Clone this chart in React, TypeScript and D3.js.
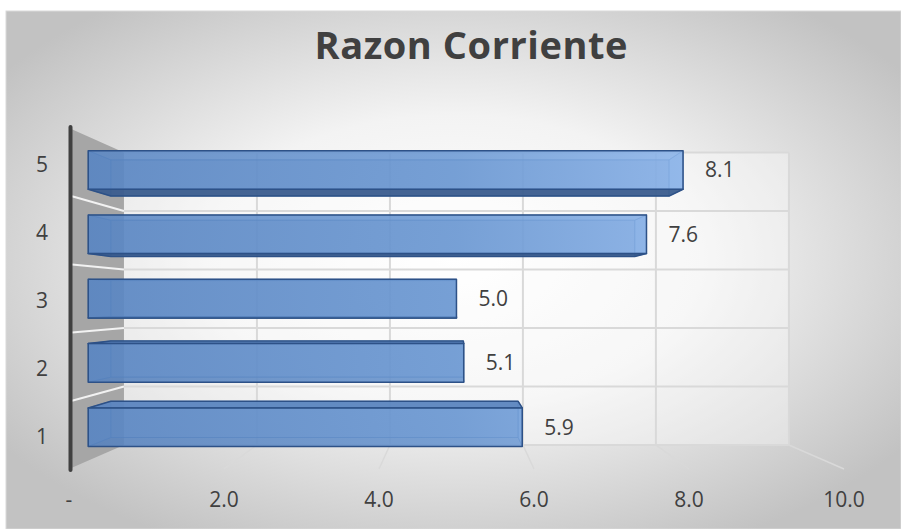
import * as d3 from "d3";

const title = "Razon Corriente";
const categories = ["1", "2", "3", "4", "5"];
const values = [5.9, 5.1, 5.0, 7.6, 8.1];
const xTicks = [0, 2, 4, 6, 8, 10];
const xTickLabels = ["-", "2.0", "4.0", "6.0", "8.0", "10.0"];

const W = 901;
const H = 529;
const FONT = "'Open Sans', 'Noto Sans', sans-serif";

// perspective: front plane (z=0) in screen space, shrinking toward a vanishing point
const vp = [456, 300];
const k = 0.1655;
const sz = (z: number) => 1 / (1 + k * z);
const P = (x: number, y: number, z: number) => {
  const s = sz(z);
  return [vp[0] + s * (x - vp[0]), vp[1] + s * (y - vp[1])] as [number, number];
};
const poly = (pts: [number, number][]) =>
  "M" + pts.map((p) => `${p[0].toFixed(2)},${p[1].toFixed(2)}`).join("L") + "Z";

const x = d3.scaleLinear().domain([0, 10]).range([69, 844]);
const y = d3.scaleBand<string>().domain([...categories].reverse()).range([128, 469]).padding(0);

const zFront = 0.365;
const zBack = 0.785;

export default function App() {
  const yTop = y.range()[0];
  const yBot = y.range()[1];
  const x0 = x(0);
  const xMax = x(10);
  const bounds = [...categories].reverse().map((c) => y(c)!).concat([yBot]);

  const bars = categories.map((c, i) => {
    const v = values[i];
    const bw = y.bandwidth();
    const y0 = y(c)! + bw * 0.2;
    const y1 = y(c)! + bw * 0.8;
    const xs = x0 - 3;
    const x1 = x(v);
    const f = (xx: number, yy: number) => P(xx, yy, zFront);
    const b = (xx: number, yy: number) => P(xx, yy, zBack);
    const above = (y0 + y1) / 2 < vp[1];
    const mid = f(x1, (y0 + y1) / 2);
    return {
      c,
      v,
      above,
      back: poly([b(xs, y0), b(x1, y0), b(x1, y1), b(xs, y1)]),
      top: poly([f(xs, y0), f(x1, y0), b(x1, y0), b(xs, y0)]),
      bottom: poly([f(xs, y1), f(x1, y1), b(x1, y1), b(xs, y1)]),
      left: poly([f(xs, y0), b(xs, y0), b(xs, y1), f(xs, y1)]),
      right: poly([f(x1, y0), b(x1, y0), b(x1, y1), f(x1, y1)]),
      front: poly([f(xs, y0), f(x1, y0), f(x1, y1), f(xs, y1)]),
      lx: mid[0] + 22,
      ly: mid[1] + 7.5,
    };
  });

  const bTL = P(x0, yTop, 1);
  const bBR = P(xMax, yBot, 1);

  return (
    <svg width={W} height={H} style={{ position: "absolute", left: 0, top: 0 }}>
      <defs>
        <radialGradient id="bg" cx="50%" cy="48%" r="62%">
          <stop offset="0" stopColor="#ffffff" />
          <stop offset="0.45" stopColor="#f3f3f3" />
          <stop offset="1" stopColor="#c2c2c2" />
        </radialGradient>
        <linearGradient id="barFill" gradientUnits="userSpaceOnUse" x1={90} y1={0} x2={700} y2={0}>
          <stop offset="0" stopColor="#5a86c2" />
          <stop offset="0.6" stopColor="#6d9ad4" />
          <stop offset="1" stopColor="#8fb7ec" />
        </linearGradient>
      </defs>
      <rect x={0} y={0} width={W} height={H} fill="#ffffff" />
      <rect x={6} y={11} width={W - 6} height={H - 11} fill="url(#bg)" stroke="#d9d9d9" strokeWidth={1} />

      {/* back wall */}
      <rect x={bTL[0]} y={bTL[1]} width={bBR[0] - bTL[0]} height={bBR[1] - bTL[1]} fill="#ffffff" opacity={0.35} />
      {xTicks.slice(1).map((t) => {
        const a = P(x(t), yTop, 1);
        const b2 = P(x(t), yBot, 1);
        return <line key={"vg" + t} x1={a[0]} y1={a[1]} x2={b2[0]} y2={b2[1]} stroke="#d9d9d9" strokeWidth={2} />;
      })}
      {bounds.map((yy, i) => {
        const a = P(x0, yy, 1);
        const b2 = P(xMax, yy, 1);
        return <line key={"hg" + i} x1={a[0]} y1={a[1]} x2={b2[0]} y2={b2[1]} stroke="#d9d9d9" strokeWidth={2} />;
      })}

      {/* floor lines */}
      {xTicks.slice(1).map((t) => {
        const a = P(x(t), yBot, 1);
        const b2 = P(x(t), yBot, 0);
        return <line key={"fl" + t} x1={a[0]} y1={a[1]} x2={b2[0]} y2={b2[1]} stroke="#d9d9d9" strokeWidth={1.5} />;
      })}

      {/* left wall */}
      <path d={poly([P(x0, yTop, 0), P(x0, yTop, 1), P(x0, yBot, 1), P(x0, yBot, 0)])} fill="#a6a6a6" />
      {bounds.slice(1, -1).map((yy, i) => {
        const a = P(x0 + 3, yy, 0);
        const b2 = P(x0, yy, 1);
        return <line key={"wl" + i} x1={a[0]} y1={a[1]} x2={b2[0]} y2={b2[1]} stroke="#f2f2f2" strokeWidth={2} />;
      })}
      <line x1={x0 + 1.5} y1={yTop - 1} x2={x0 + 1.5} y2={yBot + 1} stroke="#404040" strokeWidth={4} strokeLinecap="round" />

      {/* bars */}
      {bars.map((b) => (
        <g key={"bar" + b.c} strokeLinejoin="round">
          <path d={b.back} fill="#5582bf" fillOpacity={0.55} stroke="#3e6aa6" strokeOpacity={0.6} strokeWidth={1} />
          <path d={b.left} fill="#5a86c2" fillOpacity={0.6} stroke="#3e6aa6" strokeOpacity={0.6} strokeWidth={1} />
          <path d={b.right} fill="#7ea8df" fillOpacity={0.6} stroke="#3e6aa6" strokeOpacity={0.6} strokeWidth={1} />
          {b.above ? (
            <>
              <path d={b.top} fill="#7aa4dc" fillOpacity={0.4} stroke="#3e6aa6" strokeOpacity={0.5} strokeWidth={1} />
              <path d={b.bottom} fill="#3a5b8c" fillOpacity={0.9} stroke="#2d5187" strokeWidth={1.5} />
            </>
          ) : (
            <>
              <path d={b.bottom} fill="#3a5b8c" fillOpacity={0.4} stroke="#3e6aa6" strokeOpacity={0.5} strokeWidth={1} />
              <path d={b.top} fill="#5c86c0" fillOpacity={0.9} stroke="#2d5187" strokeWidth={1.5} />
            </>
          )}
          <path d={b.front} fill="url(#barFill)" fillOpacity={0.82} stroke="#2d5187" strokeWidth={1.5} />
        </g>
      ))}

      {/* value labels */}
      {bars.map((b) => (
        <text key={"vl" + b.c} x={b.lx} y={b.ly} fontFamily={FONT} fontSize={21} fill="#404040">
          {b.v.toFixed(1)}
        </text>
      ))}

      {/* category labels */}
      {categories.map((c) => (
        <text key={"cl" + c} x={42} y={y(c)! + y.bandwidth() / 2 + 2 + 7.5} textAnchor="middle" fontFamily={FONT} fontSize={21} fill="#404040">
          {c}
        </text>
      ))}

      {/* x tick labels */}
      {xTicks.map((t, i) => (
        <text key={"xl" + t} x={x(t)} y={507} textAnchor="middle" fontFamily={FONT} fontSize={21} fill="#404040">
          {xTickLabels[i]}
        </text>
      ))}

      <text x={471} y={59} textAnchor="middle" fontFamily={FONT} fontSize={38} fontWeight="bold" fill="#404040" textLength={313} lengthAdjust="spacing">
        {title}
      </text>
    </svg>
  );
}
